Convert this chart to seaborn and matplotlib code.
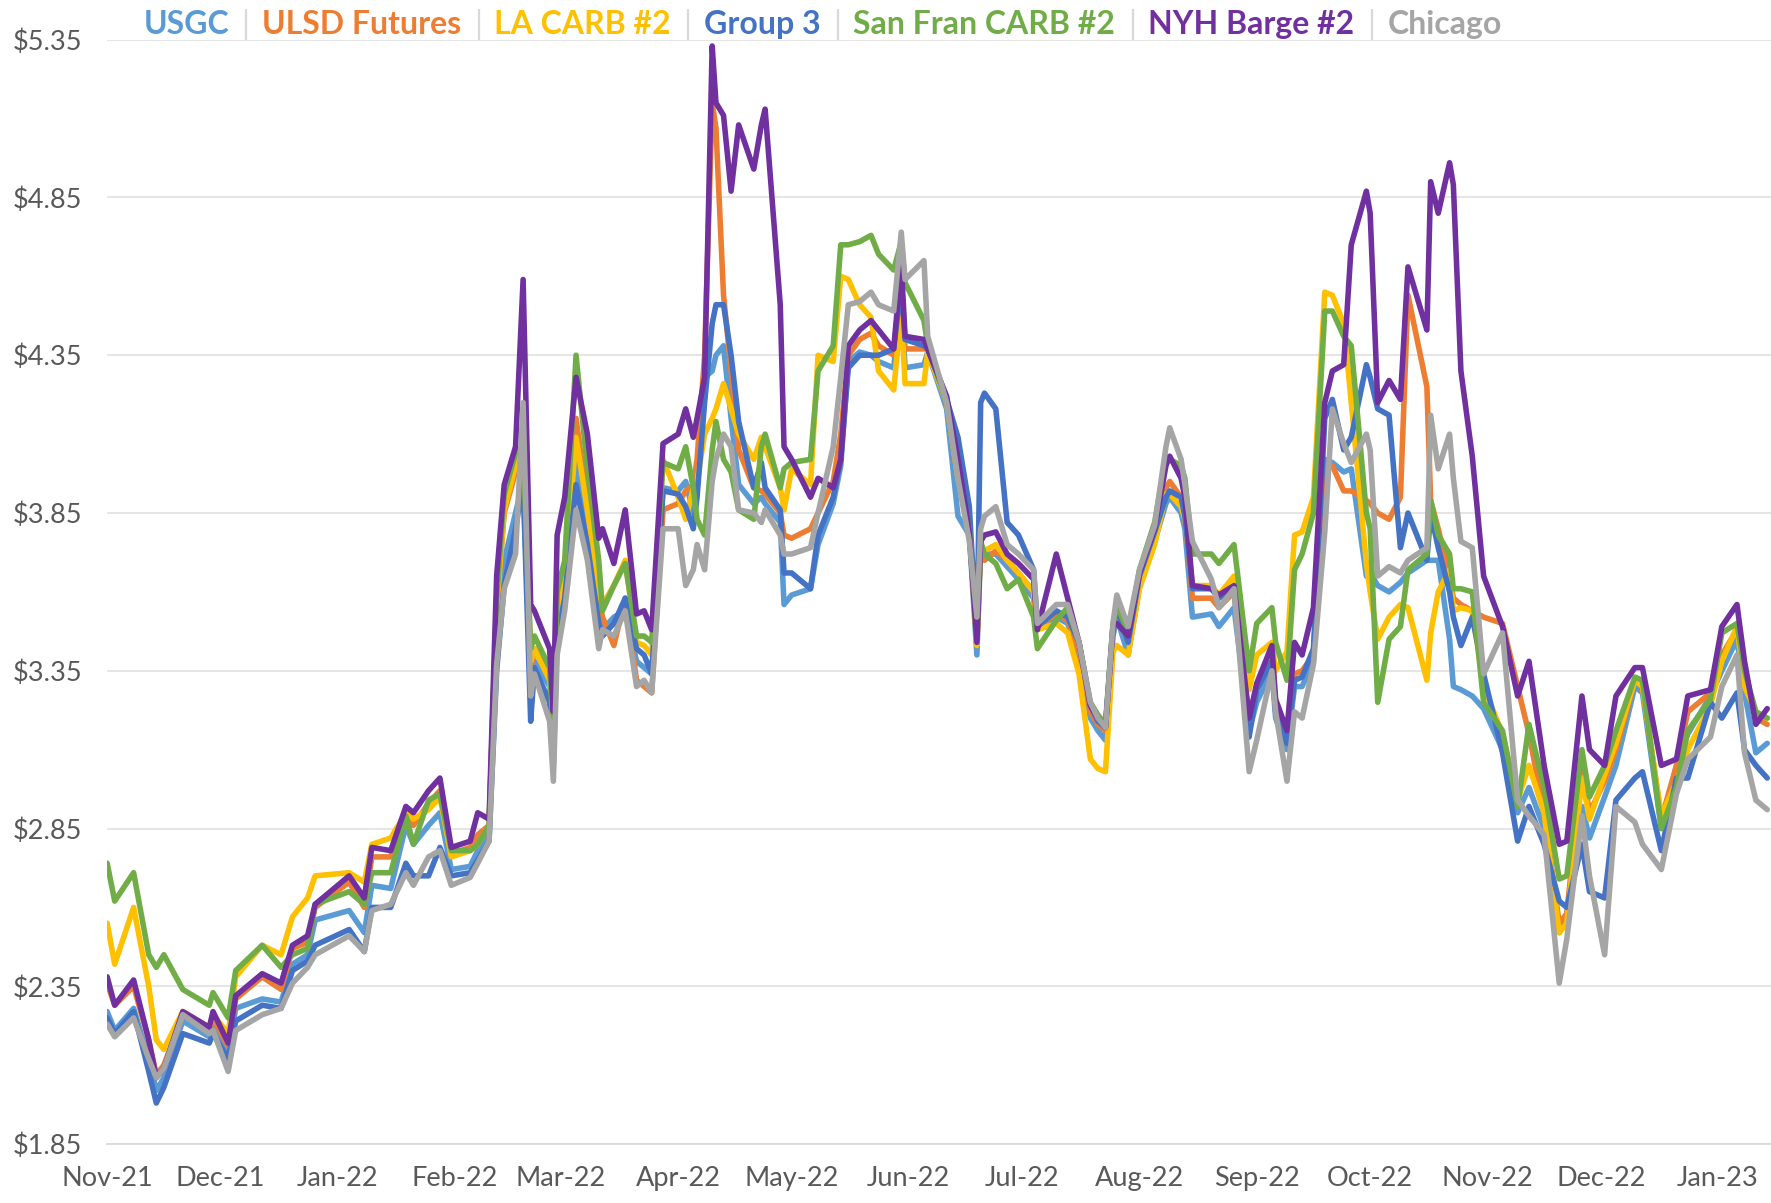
import numpy as np
import pandas as pd
import matplotlib
matplotlib.use("Agg")
import matplotlib.pyplot as plt
import matplotlib.dates as mdates
import matplotlib.ticker as mticker
import seaborn as sns
from matplotlib.offsetbox import TextArea, HPacker, AnchoredOffsetbox

# ---------------- data ----------------
start_date = "2021-11-01"
day_offsets = [0, 2, 7, 11, 13, 15, 20, 27, 28, 32,
               34, 41, 46, 49, 53, 55, 64, 68, 70, 75,
               79, 81, 85, 88, 91, 96, 98, 101, 103, 105,
               108, 110, 112, 113, 117, 118, 119, 121, 124, 127,
               130, 131, 134, 137, 140, 142, 144, 147, 151, 153,
               155, 156, 158, 160, 161, 163, 165, 167, 171, 173,
               174, 178, 179, 181, 186, 188, 192, 194, 196, 199,
               202, 204, 208, 210, 211, 216, 217, 222, 225, 228,
               230, 231, 232, 235, 238, 241, 245, 246, 251, 254,
               257, 260, 262, 264, 266, 267, 270, 273, 277, 280,
               281, 284, 285, 287, 292, 294, 298, 302, 304, 308,
               309, 312, 314, 316, 319, 322, 324, 327, 329, 333,
               334, 336, 339, 342, 344, 349, 350, 352, 355, 356,
               358, 361, 364, 369, 373, 376, 380, 384, 386, 390,
               392, 396, 399, 404, 406, 411, 415, 418, 424, 427,
               431, 433, 436, 439]

usgc = [2.27, 2.21, 2.28, 2.12, 2.02, 2.06, 2.24, 2.19, 2.22, 2.14,
        2.28, 2.31, 2.30, 2.42, 2.45, 2.56, 2.59, 2.52, 2.67, 2.66,
        2.86, 2.80, 2.86, 2.90, 2.72, 2.73, 2.78, 2.84, 3.45, 3.70,
        3.85, 3.95, 3.30, 3.38, 3.30, 3.08, 3.50, 3.62, 4.02, 3.80,
        3.54, 3.48, 3.52, 3.54, 3.38, 3.36, 3.34, 3.93, 3.92, 3.95,
        3.85, 3.93, 4.28, 4.30, 4.35, 4.38, 4.15, 3.94, 3.88, 3.90,
        3.88, 3.82, 3.56, 3.59, 3.61, 3.75, 3.88, 4.00, 4.33, 4.36,
        4.35, 4.33, 4.31, 4.55, 4.31, 4.32, 4.36, 4.18, 3.84, 3.78,
        3.40, 3.74, 3.72, 3.72, 3.68, 3.64, 3.58, 3.48, 3.52, 3.50,
        3.40, 3.20, 3.16, 3.13, 3.46, 3.52, 3.40, 3.62, 3.76, 3.88,
        3.90, 3.85, 3.80, 3.52, 3.53, 3.49, 3.55, 3.16, 3.25, 3.35,
        3.20, 3.10, 3.30, 3.30, 3.38, 4.02, 4.01, 3.98, 3.99, 3.65,
        3.66, 3.62, 3.60, 3.63, 3.66, 3.70, 3.70, 3.70, 3.45, 3.30,
        3.29, 3.27, 3.23, 3.10, 2.90, 2.98, 2.85, 2.52, 2.58, 2.92,
        2.82, 2.95, 3.05, 3.30, 3.28, 2.85, 3.05, 3.15, 3.27, 3.35,
        3.45, 3.28, 3.09, 3.12]

ulsd = [2.36, 2.29, 2.35, 2.18, 2.07, 2.10, 2.26, 2.21, 2.25, 2.16,
        2.31, 2.38, 2.34, 2.47, 2.49, 2.60, 2.68, 2.60, 2.76, 2.76,
        2.89, 2.86, 2.93, 2.97, 2.77, 2.79, 2.83, 2.86, 3.55, 3.85,
        3.98, 4.05, 3.35, 3.42, 3.33, 3.12, 3.56, 3.67, 4.15, 3.88,
        3.58, 3.52, 3.43, 3.58, 3.32, 3.30, 3.28, 3.86, 3.88, 3.92,
        3.94, 4.02, 4.35, 5.15, 5.07, 4.54, 4.30, 4.05, 3.93, 3.92,
        3.91, 3.85, 3.78, 3.77, 3.80, 3.85, 3.95, 4.10, 4.35, 4.40,
        4.42, 4.38, 4.35, 4.58, 4.37, 4.37, 4.37, 4.20, 3.96, 3.80,
        3.44, 3.75, 3.70, 3.73, 3.70, 3.66, 3.60, 3.49, 3.53, 3.51,
        3.41, 3.22, 3.18, 3.16, 3.48, 3.54, 3.44, 3.64, 3.78, 3.93,
        3.95, 3.90, 3.85, 3.58, 3.58, 3.55, 3.60, 3.20, 3.30, 3.40,
        3.25, 3.14, 3.34, 3.35, 3.40, 4.00, 4.00, 3.92, 3.92, 3.89,
        3.88, 3.85, 3.83, 3.90, 4.54, 4.25, 3.89, 3.80, 3.65, 3.58,
        3.56, 3.54, 3.52, 3.50, 3.30, 3.15, 2.90, 2.55, 2.58, 3.05,
        2.90, 3.00, 3.10, 3.32, 3.30, 2.88, 3.05, 3.22, 3.28, 3.40,
        3.48, 3.33, 3.20, 3.18]

la_carb = [2.55, 2.42, 2.60, 2.35, 2.18, 2.15, 2.27, 2.22, 2.26, 2.20,
           2.38, 2.48, 2.45, 2.57, 2.63, 2.70, 2.71, 2.68, 2.80, 2.82,
           2.90, 2.88, 2.91, 2.95, 2.76, 2.78, 2.80, 2.86, 3.55, 3.86,
           4.00, 4.05, 3.38, 3.42, 3.32, 3.12, 3.55, 3.64, 4.09, 3.86,
           3.60, 3.56, 3.62, 3.70, 3.44, 3.43, 3.40, 4.02, 3.90, 3.83,
           3.93, 3.95, 4.10, 4.15, 4.18, 4.26, 4.18, 4.10, 4.02, 4.09,
           4.06, 3.93, 3.86, 3.99, 3.94, 4.35, 4.33, 4.60, 4.59, 4.51,
           4.47, 4.30, 4.24, 4.49, 4.26, 4.26, 4.36, 4.20, 3.96, 3.80,
           3.43, 3.75, 3.73, 3.75, 3.70, 3.66, 3.60, 3.48, 3.50, 3.47,
           3.34, 3.07, 3.04, 3.03, 3.41, 3.43, 3.40, 3.61, 3.75, 3.91,
           3.91, 3.87, 3.83, 3.62, 3.62, 3.59, 3.65, 3.29, 3.40, 3.44,
           3.35, 3.41, 3.78, 3.79, 3.90, 4.55, 4.54, 4.45, 4.20, 3.69,
           3.60, 3.45, 3.52, 3.56, 3.55, 3.32, 3.47, 3.60, 3.67, 3.54,
           3.55, 3.54, 3.30, 3.15, 2.94, 3.05, 2.90, 2.52, 2.55, 3.01,
           2.88, 3.02, 3.12, 3.32, 3.30, 2.89, 3.00, 3.10, 3.24, 3.38,
           3.49, 3.30, 3.22, 3.20]

group3 = [2.25, 2.20, 2.27, 2.08, 1.98, 2.03, 2.20, 2.17, 2.20, 2.12,
          2.24, 2.29, 2.28, 2.40, 2.43, 2.48, 2.53, 2.46, 2.60, 2.60,
          2.74, 2.70, 2.70, 2.79, 2.70, 2.71, 2.75, 2.81, 3.35, 3.62,
          3.80, 3.95, 3.19, 3.36, 3.25, 3.05, 3.45, 3.58, 3.94, 3.75,
          3.50, 3.46, 3.50, 3.58, 3.42, 3.40, 3.34, 3.92, 3.91, 3.87,
          3.80, 3.90, 4.20, 4.45, 4.51, 4.51, 4.35, 4.14, 3.93, 4.01,
          3.93, 3.86, 3.66, 3.66, 3.61, 3.78, 3.90, 4.02, 4.31, 4.35,
          4.35, 4.35, 4.37, 4.58, 4.40, 4.38, 4.37, 4.21, 4.09, 3.87,
          3.45, 4.20, 4.23, 4.18, 3.82, 3.78, 3.67, 3.49, 3.54, 3.52,
          3.44, 3.24, 3.19, 3.17, 3.49, 3.55, 3.44, 3.65, 3.79, 3.90,
          3.92, 3.90, 3.84, 3.61, 3.61, 3.58, 3.61, 3.14, 3.29, 3.38,
          3.22, 3.12, 3.32, 3.33, 3.42, 4.15, 4.21, 4.05, 4.09, 4.32,
          4.28, 4.18, 4.16, 3.74, 3.85, 3.70, 3.85, 3.74, 3.60, 3.52,
          3.43, 3.52, 3.34, 3.09, 2.81, 2.92, 2.80, 2.62, 2.60, 2.80,
          2.65, 2.63, 2.94, 3.01, 3.03, 2.78, 3.01, 3.01, 3.25, 3.20,
          3.28, 3.10, 3.05, 3.01]

sf_carb = [2.74, 2.62, 2.71, 2.45, 2.41, 2.45, 2.34, 2.29, 2.33, 2.25,
           2.40, 2.48, 2.41, 2.45, 2.47, 2.61, 2.65, 2.61, 2.71, 2.71,
           2.89, 2.80, 2.94, 2.96, 2.78, 2.78, 2.80, 2.86, 3.58, 3.91,
           4.04, 4.06, 3.42, 3.46, 3.36, 3.15, 3.60, 3.70, 4.35, 3.99,
           3.70, 3.54, 3.62, 3.69, 3.46, 3.46, 3.44, 4.01, 3.99, 4.06,
           3.93, 3.83, 3.78, 4.05, 4.14, 4.02, 3.98, 3.86, 3.83, 4.06,
           4.10, 3.93, 3.99, 4.01, 4.02, 4.30, 4.38, 4.70, 4.70, 4.71,
           4.73, 4.67, 4.62, 4.71, 4.58, 4.46, 4.38, 4.20, 3.97, 3.80,
           3.45, 3.76, 3.72, 3.69, 3.61, 3.64, 3.52, 3.42, 3.51, 3.55,
           3.44, 3.25, 3.21, 3.18, 3.50, 3.56, 3.47, 3.67, 3.82, 4.03,
           4.02, 4.00, 3.96, 3.72, 3.72, 3.69, 3.75, 3.35, 3.50, 3.55,
           3.44, 3.32, 3.67, 3.72, 3.85, 4.49, 4.49, 4.41, 4.38, 3.85,
           3.80, 3.25, 3.45, 3.49, 3.67, 3.72, 3.89, 3.78, 3.72, 3.61,
           3.61, 3.60, 3.25, 3.16, 2.92, 3.18, 2.98, 2.69, 2.70, 3.10,
           2.95, 3.05, 3.16, 3.33, 3.32, 2.85, 2.98, 3.16, 3.26, 3.47,
           3.50, 3.35, 3.22, 3.20]

nyh_barge = [2.38, 2.29, 2.37, 2.18, 2.06, 2.09, 2.27, 2.22, 2.27, 2.17,
             2.32, 2.39, 2.36, 2.48, 2.51, 2.61, 2.70, 2.63, 2.79, 2.78,
             2.92, 2.90, 2.97, 3.01, 2.79, 2.81, 2.90, 2.88, 3.65, 3.94,
             4.06, 4.59, 3.56, 3.54, 3.42, 3.22, 3.78, 3.90, 4.28, 4.10,
             3.77, 3.80, 3.69, 3.86, 3.53, 3.54, 3.48, 4.07, 4.10, 4.18,
             4.09, 4.15, 4.28, 5.33, 5.15, 5.11, 4.87, 5.08, 4.94, 5.08,
             5.13, 4.51, 4.06, 4.02, 3.90, 3.96, 3.93, 4.02, 4.38, 4.43,
             4.46, 4.43, 4.37, 4.64, 4.41, 4.40, 4.37, 4.22, 4.02, 3.79,
             3.44, 3.76, 3.78, 3.79, 3.72, 3.69, 3.64, 3.48, 3.72, 3.58,
             3.44, 3.24, 3.20, 3.17, 3.49, 3.50, 3.46, 3.66, 3.80, 4.00,
             4.03, 3.96, 3.90, 3.62, 3.61, 3.59, 3.62, 3.20, 3.31, 3.43,
             3.26, 3.16, 3.44, 3.40, 3.55, 4.20, 4.30, 4.32, 4.70, 4.87,
             4.80, 4.20, 4.27, 4.21, 4.63, 4.43, 4.90, 4.80, 4.96, 4.89,
             4.30, 4.03, 3.65, 3.49, 3.27, 3.38, 3.05, 2.80, 2.81, 3.27,
             3.10, 3.05, 3.27, 3.36, 3.36, 3.05, 3.07, 3.27, 3.29, 3.49,
             3.56, 3.38, 3.18, 3.23]

chicago = [2.23, 2.19, 2.25, 2.12, 2.06, 2.09, 2.26, 2.20, 2.21, 2.08,
           2.21, 2.26, 2.28, 2.36, 2.41, 2.45, 2.51, 2.46, 2.59, 2.61,
           2.71, 2.67, 2.76, 2.78, 2.67, 2.695, 2.74, 2.81, 3.37, 3.61,
           3.72, 4.20, 3.27, 3.34, 3.19, 3.00, 3.40, 3.54, 3.86, 3.70,
           3.42, 3.48, 3.46, 3.54, 3.30, 3.32, 3.28, 3.80, 3.80, 3.62,
           3.67, 3.75, 3.67, 3.95, 4.02, 4.10, 4.06, 3.86, 3.85, 3.82,
           3.86, 3.78, 3.72, 3.72, 3.74, 3.85, 4.06, 4.28, 4.51, 4.52,
           4.55, 4.51, 4.49, 4.74, 4.59, 4.65, 4.41, 4.20, 3.96, 3.76,
           3.52, 3.80, 3.84, 3.87, 3.75, 3.72, 3.67, 3.50, 3.56, 3.56,
           3.44, 3.25, 3.20, 3.17, 3.50, 3.59, 3.49, 3.67, 3.81, 4.06,
           4.12, 4.02, 3.94, 3.76, 3.64, 3.55, 3.61, 3.03, 3.13, 3.35,
           3.22, 3.00, 3.22, 3.20, 3.37, 3.79, 4.18, 4.07, 4.01, 4.10,
           4.05, 3.65, 3.68, 3.66, 3.70, 3.74, 4.16, 3.99, 4.10, 3.96,
           3.76, 3.74, 3.34, 3.47, 2.94, 2.89, 2.83, 2.36, 2.50, 2.89,
           2.70, 2.45, 2.92, 2.87, 2.80, 2.72, 2.96, 3.07, 3.14, 3.30,
           3.40, 3.09, 2.94, 2.91]

series_names = ["USGC", "ULSD Futures", "LA CARB #2", "Group 3",
                "San Fran CARB #2", "NYH Barge #2", "Chicago"]
series_values = [usgc, ulsd, la_carb, group3, sf_carb, nyh_barge, chicago]
series_colors = ["#5B9BD5", "#ED7D31", "#FFC000", "#4472C4",
                 "#70AD47", "#7030A0", "#A5A5A5"]
y_ticks = [1.85, 2.35, 2.85, 3.35, 3.85, 4.35, 4.85, 5.35]

dates = pd.Timestamp(start_date) + pd.to_timedelta(day_offsets, unit="D")
frames = []
for name, vals in zip(series_names, series_values):
    assert len(vals) == len(dates), (name, len(vals), len(dates))
    frames.append(pd.DataFrame({"date": dates, "price": vals, "series": name}))
df = pd.concat(frames, ignore_index=True)

# ---------------- plot ----------------
sns.set_style("white")
plt.rcParams["font.family"] = ["Lato", "DejaVu Sans"]

fig = plt.figure(figsize=(17.71, 12.03), dpi=100)
ax = fig.add_axes([0.0605, 0.049, 0.9395, 0.918])

sns.lineplot(data=df, x="date", y="price", hue="series",
             hue_order=series_names, palette=series_colors,
             linewidth=4.0, estimator=None, legend=False, ax=ax,
             solid_joinstyle="round", solid_capstyle="round")

ax.set_ylim(1.85, 5.35)
ax.set_xlim(pd.Timestamp("2021-11-01"), pd.Timestamp("2023-01-15"))
ax.set_yticks(y_ticks)
ax.yaxis.set_major_formatter(mticker.FuncFormatter(lambda v, p: f"${v:.2f}"))
month_ticks = pd.date_range("2021-11-01", "2023-01-01", freq="MS")
ax.set_xticks(month_ticks)
ax.xaxis.set_major_formatter(mdates.DateFormatter("%b-%y"))
ax.set_xlabel("")
ax.set_ylabel("")

for s in ["left", "top", "right"]:
    ax.spines[s].set_visible(False)
ax.spines["bottom"].set_color("#D9D9D9")
ax.spines["bottom"].set_linewidth(1.3)
ax.yaxis.grid(True, color="#E3E3E3", linewidth=1.3)
ax.xaxis.grid(False)
ax.set_axisbelow(True)
ax.tick_params(axis="x", length=8, width=1.2, color="#D9D9D9",
               labelsize=19.5, labelcolor="#595959", pad=8)
ax.tick_params(axis="y", length=0, labelsize=19.5, labelcolor="#595959", pad=18)

# legend with separators
items = []
for i, (name, col) in enumerate(zip(series_names, series_colors)):
    if i > 0:
        items.append(TextArea("|", textprops=dict(color="#D9D9D9", fontsize=23,
                                                  family="Lato")))
    items.append(TextArea(name, textprops=dict(color=col, fontsize=23,
                                               fontweight="bold",
                                               family="Lato")))
box = HPacker(children=items, align="center", pad=0, sep=9)
anch = AnchoredOffsetbox(loc="center left", child=box, pad=0, borderpad=0,
                         frameon=False, bbox_to_anchor=(0.081, 0.980),
                         bbox_transform=fig.transFigure)
fig.add_artist(anch)

fig.savefig("out.png", dpi=100, facecolor="white")
